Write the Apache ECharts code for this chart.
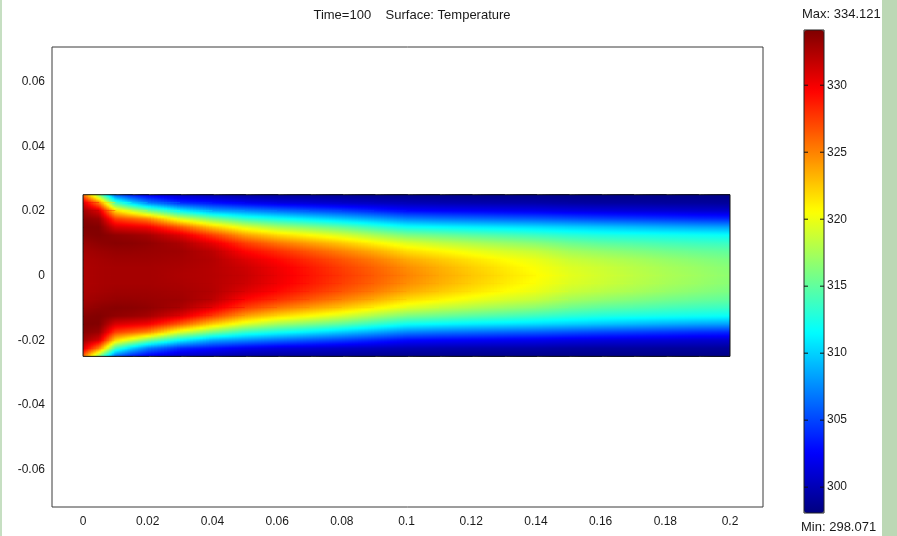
<!DOCTYPE html>
<html>
<head>
<meta charset="utf-8">
<title>Time=100 Surface: Temperature</title>
<script src="https://cdn.jsdelivr.net/npm/echarts@6/dist/echarts.min.js"></script>
<style>
  html, body { margin: 0; padding: 0; background: #fff; }
  #chart { width: 897px; height: 536px; }
</style>
</head>
<body>
<div id="chart"></div>
<script>
// nodes of the sampled field (x along the channel, y across it, top to bottom)
var xNodes = [0, 0.005, 0.01, 0.015, 0.02, 0.03, 0.04, 0.05, 0.06, 0.07, 0.08, 0.09, 0.1,
  0.11, 0.12, 0.13, 0.14, 0.15, 0.16, 0.17, 0.18, 0.19, 0.2]
var yNodes = [0.025, 0.0225, 0.02, 0.0175, 0.015, 0.0125, 0.01, 0.0075, 0.005, 0.0025, 0,
  -0.0025, -0.005, -0.0075, -0.01, -0.0125, -0.015, -0.0175, -0.02, -0.0225, -0.025]

// temperature, one row per y node, one value per x node
var temperature = [
  [326, 316, 306, 303.5, 302, 300.5, 299.8, 299.2, 299, 298.9, 298.8, 298.6, 298.5, 298.5, 298.4, 298.4, 298.4, 298.3, 298.3, 298.3, 298.3, 298.3, 298.3],
  [331, 325, 314, 310, 307, 304, 303, 302, 301.4, 301, 300.6, 300.3, 300, 299.8, 299.7, 299.6, 299.5, 299.3, 299.2, 299.2, 299.1, 299.1, 299],
  [333, 331, 322, 319, 316, 311.5, 308.5, 307.5, 306.5, 305.6, 304.8, 303.8, 302.8, 302.5, 302.3, 302.1, 301.9, 301.6, 301.4, 301.2, 301.1, 300.9, 300.8],
  [333.8, 333.2, 327.5, 326.3, 325, 319.5, 316, 313.5, 312.2, 311, 309.8, 308.6, 307.3, 306.8, 306.5, 306.2, 305.9, 305.5, 305.1, 304.8, 304.5, 304.2, 304],
  [334.1, 334, 331, 330.5, 330, 326.5, 322.5, 319.5, 317.5, 316.2, 315, 313.5, 312, 311.5, 311.1, 310.8, 310.4, 310, 309.6, 309.2, 308.8, 308.5, 308.3],
  [333.8, 334, 333.5, 333.2, 332.8, 330.8, 327.5, 324, 322, 320.6, 319.2, 317.6, 316, 315.4, 314.8, 314.3, 313.7, 313.1, 312.7, 312.4, 312.2, 312, 311.8],
  [333.2, 333.6, 333.8, 333.7, 333.5, 332.6, 330.5, 327.5, 325.5, 324, 322.6, 321, 319.5, 318.5, 317.8, 317.1, 316.4, 315.5, 314.9, 314.5, 314.1, 313.8, 313.6],
  [332.8, 333.1, 333.3, 333.3, 333.2, 333, 332, 329.5, 328, 326.5, 325, 323.5, 321.8, 320.9, 320, 319.2, 318.5, 317.4, 316.8, 316.2, 315.7, 315.3, 315],
  [332.6, 332.8, 333, 333, 333, 332.8, 332.3, 330.8, 329.4, 328, 326.6, 325.2, 323.6, 322.5, 321.5, 320.6, 319.8, 318.7, 318.1, 317.5, 316.9, 316.4, 315.9],
  [332.5, 332.7, 332.8, 332.8, 332.8, 332.6, 332.2, 331.4, 330.1, 328.8, 327.4, 326.1, 324.6, 323.4, 322.3, 321.3, 320.4, 319.4, 318.8, 318.1, 317.5, 317, 316.4],
  [332.5, 332.7, 332.8, 332.8, 332.8, 332.5, 332.2, 331.6, 330.3, 329, 327.7, 326.4, 325, 323.7, 322.6, 321.6, 320.7, 319.7, 319, 318.3, 317.7, 317.2, 316.6],
  [332.5, 332.7, 332.8, 332.8, 332.8, 332.6, 332.2, 331.4, 330.1, 328.8, 327.4, 326.1, 324.6, 323.4, 322.3, 321.3, 320.4, 319.4, 318.8, 318.1, 317.5, 317, 316.4],
  [332.6, 332.8, 333, 333, 333, 332.8, 332.3, 330.8, 329.4, 328, 326.6, 325.2, 323.6, 322.5, 321.5, 320.6, 319.8, 318.7, 318.1, 317.5, 316.9, 316.4, 315.9],
  [332.8, 333.1, 333.3, 333.3, 333.2, 333, 332, 329.5, 328, 326.5, 325, 323.5, 321.8, 320.9, 320, 319.2, 318.5, 317.4, 316.8, 316.2, 315.7, 315.3, 315],
  [333.2, 333.6, 333.8, 333.7, 333.5, 332.6, 330.5, 327.5, 325.5, 324, 322.6, 321, 319.5, 318.5, 317.8, 317.1, 316.4, 315.5, 314.9, 314.5, 314.1, 313.8, 313.6],
  [333.8, 334, 333.5, 333.2, 332.8, 330.8, 327.5, 324, 322, 320.6, 319.2, 317.6, 316, 315.4, 314.8, 314.3, 313.7, 313.1, 312.7, 312.4, 312.2, 312, 311.8],
  [334.1, 334, 331, 330.5, 330, 326.5, 322.5, 319.5, 317.5, 316.2, 315, 313.5, 312, 311.5, 311.1, 310.8, 310.4, 310, 309.6, 309.2, 308.8, 308.5, 308.3],
  [333.8, 333.2, 327.5, 326.3, 325, 319.5, 316, 313.5, 312.2, 311, 309.8, 308.6, 307.3, 306.8, 306.5, 306.2, 305.9, 305.5, 305.1, 304.8, 304.5, 304.2, 304],
  [333, 331, 322, 319, 316, 311.5, 308.5, 307.5, 306.5, 305.6, 304.8, 303.8, 302.8, 302.5, 302.3, 302.1, 301.9, 301.6, 301.4, 301.2, 301.1, 300.9, 300.8],
  [331, 325, 314, 310, 307, 304, 303, 302, 301.4, 301, 300.6, 300.3, 300, 299.8, 299.7, 299.6, 299.5, 299.3, 299.2, 299.2, 299.1, 299.1, 299],
  [326, 316, 306, 303.5, 302, 300.5, 299.8, 299.2, 299, 298.9, 298.8, 298.6, 298.5, 298.5, 298.4, 298.4, 298.4, 298.3, 298.3, 298.3, 298.3, 298.3, 298.3]
]

var tMax = 334.121
var tMin = 298.071

var xTicks = [0, 0.02, 0.04, 0.06, 0.08, 0.1, 0.12, 0.14, 0.16, 0.18, 0.2]
var yTicks = [-0.06, -0.04, -0.02, 0, 0.02, 0.04, 0.06]
var barTicks = [300, 305, 310, 315, 320, 325, 330]

// outline of the domain
var boundaryX = [0, 0.2, 0.2, 0, 0]
var boundaryY = [-0.025, -0.025, 0.025, 0.025, -0.025]

var jet = ['#00007F', '#0000FF', '#007FFF', '#00FFFF', '#7FFF7F', '#FFFF00', '#FF7F00', '#FF0000', '#7F0000']

// column-major list: item + 1 is the node below, item + nY the node to the right
var fieldData = []
xNodes.forEach(function (x, i) {
  yNodes.forEach(function (y, j) {
    fieldData.push([x, y, temperature[j][i]])
  })
})
var boundaryData = boundaryX.map(function (x, k) { return [x, boundaryY[k]] })
var tickData = barTicks.map(function (v) { return [0, v] })

var nX = xNodes.length
var nY = yNodes.length
var STRIPS = 10
var STOPS = 4

// same mapping the visualMap uses: evenly spaced stops over [tMin, tMax]
function tempColor(v) {
  var t = (v - tMin) / (tMax - tMin)
  return echarts.color.lerp(Math.max(0, Math.min(1, t)), jet)
}

// each node owns the cell to its lower right, shaded from its four corner values
function renderCell(params, api) {
  var j = params.dataIndex % nY
  var i = Math.floor(params.dataIndex / nY)
  if (j === nY - 1 || i === nX - 1) return null
  var k = params.dataIndexInside
  var p0 = api.coord([xNodes[i], yNodes[j]])
  var p1 = api.coord([xNodes[i + 1], yNodes[j + 1]])
  var vTL = api.value(2, k)
  var vBL = api.value(2, k + 1)
  var vTR = api.value(2, k + nY)
  var vBR = api.value(2, k + nY + 1)
  var cw = p1[0] - p0[0]
  var w = cw / STRIPS
  var h = p1[1] - p0[1]
  var ex = i < nX - 2 ? 1 : 0
  var ey = j < nY - 2 ? 1 : 0
  var children = []
  for (var s = 0; s < STRIPS; s++) {
    var t = (s + 0.5) / STRIPS
    var vT = vTL + (vTR - vTL) * t
    var vB = vBL + (vBR - vBL) * t
    var stops = []
    for (var u = 0; u <= STOPS; u++) {
      var f = u / STOPS
      stops.push({ offset: f * h / (h + ey), color: tempColor(vT + (vB - vT) * f) })
    }
    // each strip runs to the cell's end; the next one covers the rest
    children.push({
      type: 'rect',
      shape: { x: p0[0] + s * w, y: p0[1], width: cw - s * w + ex, height: h + ey },
      style: { fill: new echarts.graphic.LinearGradient(0, 0, 0, 1, stops) }
    })
  }
  return { type: 'group', children: children }
}

// small dashes on both edges of the colour bar
function renderBarTick(params, api) {
  var left = api.coord([0, api.value(1)])
  var right = api.coord([1, api.value(1)])
  var style = { stroke: '#111', lineWidth: 1 }
  return {
    type: 'group',
    children: [
      { type: 'line', shape: { x1: left[0], y1: left[1], x2: left[0] + 4, y2: left[1] }, style: style },
      { type: 'line', shape: { x1: right[0] - 4, y1: right[1], x2: right[0], y2: right[1] }, style: style }
    ]
  }
}

var chart = echarts.init(document.getElementById('chart'))
var font = 'Liberation Sans, Arial, sans-serif'

chart.setOption({
  animation: false,
  backgroundColor: '#fff',
  textStyle: { fontFamily: font },
  title: [
    {
      text: 'Time=100    Surface: Temperature',
      left: 407, top: 4, textAlign: 'center',
      textStyle: { fontSize: 13, fontWeight: 'normal', color: '#1a1a1a', fontFamily: font }
    },
    {
      text: 'Max: ' + tMax.toFixed(3),
      left: 797, top: 3,
      textStyle: { fontSize: 13, fontWeight: 'normal', color: '#1a1a1a', fontFamily: font }
    },
    {
      text: 'Min: ' + tMin.toFixed(3),
      left: 796, top: 516,
      textStyle: { fontSize: 13, fontWeight: 'normal', color: '#1a1a1a', fontFamily: font }
    }
  ],
  graphic: [
    { type: 'rect', left: 882, top: 0, shape: { width: 15, height: 536 }, style: { fill: '#bcd8b5' } },
    { type: 'rect', left: 0, top: 0, shape: { width: 2, height: 536 }, style: { fill: '#c6dfc2' } }
  ],
  grid: [
    { left: 52, top: 47, width: 711, height: 460, show: true, borderColor: '#3a3a3a', borderWidth: 1 },
    { left: 804, top: 30, width: 20, height: 483, show: true, borderColor: '#222', borderWidth: 1, z: 10 }
  ],
  xAxis: [
    {
      type: 'value', gridIndex: 0, min: -0.0096, max: 0.2102,
      axisLine: { show: false }, axisTick: { show: false }, splitLine: { show: false },
      axisLabel: { customValues: xTicks, margin: 9, fontSize: 12, color: '#1a1a1a' }
    },
    { type: 'value', gridIndex: 1, show: false, min: 0, max: 1 }
  ],
  yAxis: [
    {
      type: 'value', gridIndex: 0, min: -0.0716, max: 0.0707,
      axisLine: { show: false }, axisTick: { show: false }, splitLine: { show: false },
      axisLabel: { customValues: yTicks, margin: 7, fontSize: 12, color: '#1a1a1a' }
    },
    {
      type: 'value', gridIndex: 1, position: 'right', min: tMin, max: tMax,
      axisLine: { show: false }, splitLine: { show: false }, axisTick: { show: false },
      axisLabel: { customValues: barTicks, margin: 3, fontSize: 12, color: '#1a1a1a' }
    }
  ],
  visualMap: {
    type: 'continuous',
    min: tMin, max: tMax,
    seriesIndex: 0, dimension: 2,
    calculable: false,
    left: 789, top: 15, z: 1,
    itemWidth: 20, itemHeight: 483,
    inRange: { color: jet }
  },
  series: [
    {
      type: 'custom',
      xAxisIndex: 0, yAxisIndex: 0,
      data: fieldData,
      renderItem: renderCell,
      silent: true
    },
    {
      type: 'line',
      xAxisIndex: 0, yAxisIndex: 0,
      data: boundaryData,
      symbol: 'none',
      lineStyle: { color: '#111', width: 1 },
      silent: true,
      z: 5
    },
    {
      type: 'custom',
      xAxisIndex: 1, yAxisIndex: 1,
      data: tickData,
      renderItem: renderBarTick,
      silent: true,
      z: 20
    }
  ]
})
</script>
</body>
</html>
